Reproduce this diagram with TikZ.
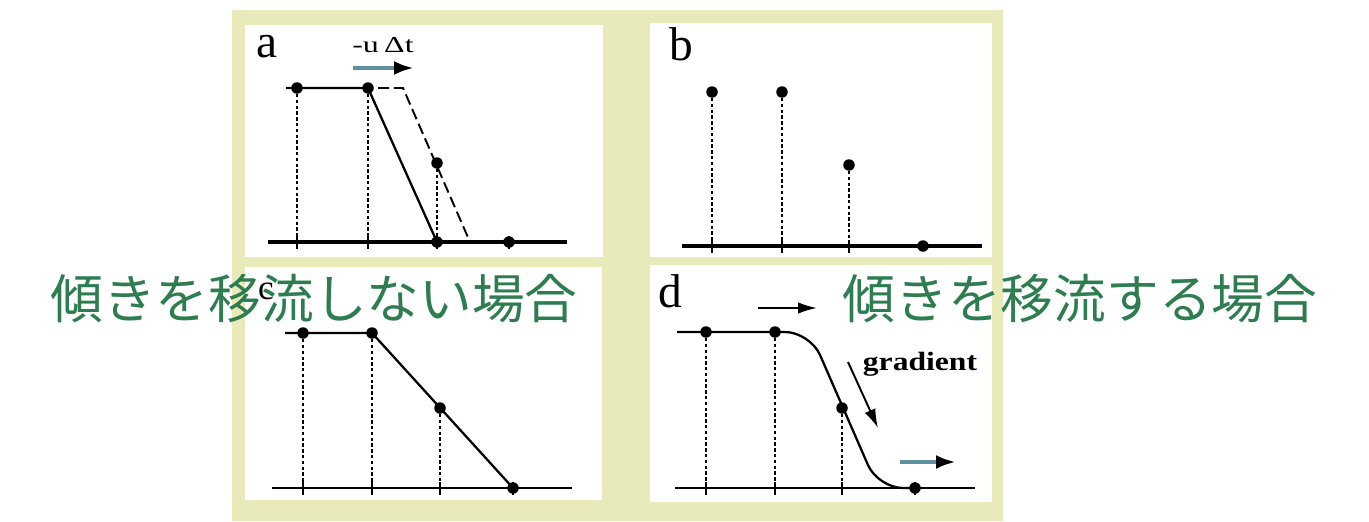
\documentclass[tikz,border=0pt]{standalone}
\usepackage{graphicx}
\usepackage{fontspec}
\setmainfont{Liberation Serif}
\newfontfamily\jpfont{Noto Sans CJK JP}
\usetikzlibrary{arrows.meta,calc}
\definecolor{framecolor}{RGB}{232,235,185}
\definecolor{captioncolor}{RGB}{46,125,80}
\definecolor{shiftcolor}{RGB}{95,143,160}
\tikzset{
  panel/.style={fill=white, draw=none},
  grid point/.style={circle, fill=black, inner sep=0pt, minimum size=0.23cm},
  drop line/.style={line width=1pt, dash pattern=on 1.9pt off 1.4pt},
  thick axis/.style={line width=2.1pt},
  thin axis/.style={line width=1.3pt},
  tick mark/.style={line width=1pt},
  profile/.style={line width=1.3pt},
  shifted profile/.style={line width=1.1pt, dash pattern=on 6.3pt off 2.8pt},
  panel label/.style={font=\fontsize{27}{29}\selectfont, inner sep=0pt},
  caption/.style={text=captioncolor, font=\jpfont\fontsize{30}{32}\selectfont, inner sep=0pt},
  shift arrow/.style={
      shiftcolor, line width=2.4pt,
        -{Latex[length=4mm,width=2.8mm,color=black]}
    },
  plain arrow/.style={
      black, line width=1.1pt,
        -{Latex[length=3.8mm,width=2.3mm]}
    }
}

\begin{document}
\begin{tikzpicture}[x=0.02cm, y=-0.02cm]

  \useasboundingbox (0,0) rectangle (1369,521);

  % ------------------------------------------------------------------
  % Frame and the four white panels.
  % ------------------------------------------------------------------
  \fill[framecolor] (232,10) rectangle (1003,521);
  \fill[panel] (245,25) rectangle (603,257);
  \fill[panel] (650,23) rectangle (992,257);
  \fill[panel] (245,267) rectangle (602,500);
  \fill[panel] (650,265) rectangle (992,502);

  % ------------------------------------------------------------------
  % a: profile shifted by -u dt.
  % ------------------------------------------------------------------
  \node[panel label] (alabel) at (267,47) {a};

  \node[grid point] (a1) at (297,88) {};
  \node[grid point] (a2) at (368,88) {};
  \node[grid point] (a3) at (437,163) {};
  \node[grid point] (a4) at (437,242) {};
  \node[grid point] (a5) at (509,242) {};

  \coordinate (aL) at (268,242);
  \coordinate (aR) at (567,242);
  \coordinate (aTop) at (286,88);
  \coordinate (aDashL) at (378,88);
  \coordinate (aDashC) at (403,88);
  \coordinate (aDashR) at (470,242);

  \draw[thick axis] (aL) -- (aR);
  \foreach \x in {297,368,437,509}
    \draw[tick mark] (\x,236) -- (\x,249);
  \foreach \p in {a1,a2,a3}
    \draw[drop line] (\p) -- (\p |- aL);

  \draw[profile] (aTop) -- (a1.center) -- (a2.center) -- (a4.center);
  \draw[shifted profile] (aDashL) -- (aDashC) -- (aDashR);

  \node[inner sep=0pt, font=\fontsize{13}{15}\selectfont] (ushift) at (383,45)
  {\scalebox{1.4}[1]{-u\,Δt}};
  \coordinate (aArrL) at (353,68);
  \coordinate (aArrR) at (414,68);
  \draw[shift arrow] (aArrL) -- (aArrR);

  % ------------------------------------------------------------------
  % b: values at the grid points.
  % ------------------------------------------------------------------
  \node[panel label] (blabel) at (681,44) {b};

  \node[grid point] (b1) at (712,92) {};
  \node[grid point] (b2) at (782,92) {};
  \node[grid point] (b3) at (849,165) {};
  \node[grid point] (b4) at (923,246) {};

  \coordinate (bL) at (682,246);
  \coordinate (bR) at (982,246);

  \draw[thick axis] (bL) -- (bR);
  \foreach \x in {712,782,849}
    \draw[tick mark] (\x,240) -- (\x,253);
  \foreach \p in {b1,b2,b3}
    \draw[drop line] (\p) -- (\p |- bL);

  % ------------------------------------------------------------------
  % c: linear reconstruction.
  % ------------------------------------------------------------------
  \node[panel label, font=\fontsize{20}{22}\selectfont] (clabel) at (266,291) {c};

  \node[grid point] (c1) at (303,333) {};
  \node[grid point] (c2) at (372,333) {};
  \node[grid point] (c3) at (440,408) {};
  \node[grid point] (c4) at (513,488) {};

  \coordinate (cL) at (272,488);
  \coordinate (cR) at (572,488);
  \coordinate (cTop) at (285,333);

  \draw[thin axis] (cL) -- (cR);
  \foreach \x in {303,372,440,513}
    \draw[tick mark] (\x,482) -- (\x,495);
  \foreach \p in {c1,c2,c3}
    \draw[drop line] (\p) -- (\p |- cL);

  \draw[profile] (cTop) -- (c1.center) -- (c2.center) -- (c4.center);

  % ------------------------------------------------------------------
  % d: profile with advected gradient.
  % ------------------------------------------------------------------
  \node[panel label] (dlabel) at (670,291) {d};

  \node[grid point] (d1) at (706,332) {};
  \node[grid point] (d2) at (775,332) {};
  \node[grid point] (d3) at (842,408) {};
  \node[grid point] (d4) at (915,488) {};

  \coordinate (dL) at (675,488);
  \coordinate (dR) at (975,488);
  \coordinate (dTop) at (677,332);
  \coordinate (dBendT) at (810,332);
  \coordinate (dBendB) at (878,488);

  \draw[thin axis] (dL) -- (dR);
  \foreach \x in {706,775,842,915}
    \draw[tick mark] (\x,482) -- (\x,495);
  \foreach \p in {d1,d2,d3}
    \draw[drop line] (\p) -- (\p |- dL);

  \draw[profile, rounded corners=0.5cm]
  (dTop) -- (dBendT) -- (dBendB) -- (d4.center);

  \coordinate (dArrTL) at (758,308);
  \coordinate (dArrTR) at (817,308);
  \draw[plain arrow] (dArrTL) -- (dArrTR);

  \node[inner sep=0pt, font=\bfseries\fontsize{15}{17}\selectfont] (gradlabel)
  at (920,364) {\scalebox{1.2}[1]{gradient}};
  \coordinate (dGradS) at (848,362);
  \coordinate (dGradE) at (878,428);
  \draw[plain arrow] (dGradS) -- (dGradE);

  \coordinate (dArrBL) at (900,462);
  \coordinate (dArrBR) at (956,462);
  \draw[shift arrow] (dArrBL) -- (dArrBR);

  % ------------------------------------------------------------------
  % Captions laid over the panels.
  % ------------------------------------------------------------------
  \node[caption] (capleft) at (314,299) {傾きを移流しない場合};
  \node[caption] (capright) at (1080,299) {傾きを移流する場合};

\end{tikzpicture}
\end{document}
